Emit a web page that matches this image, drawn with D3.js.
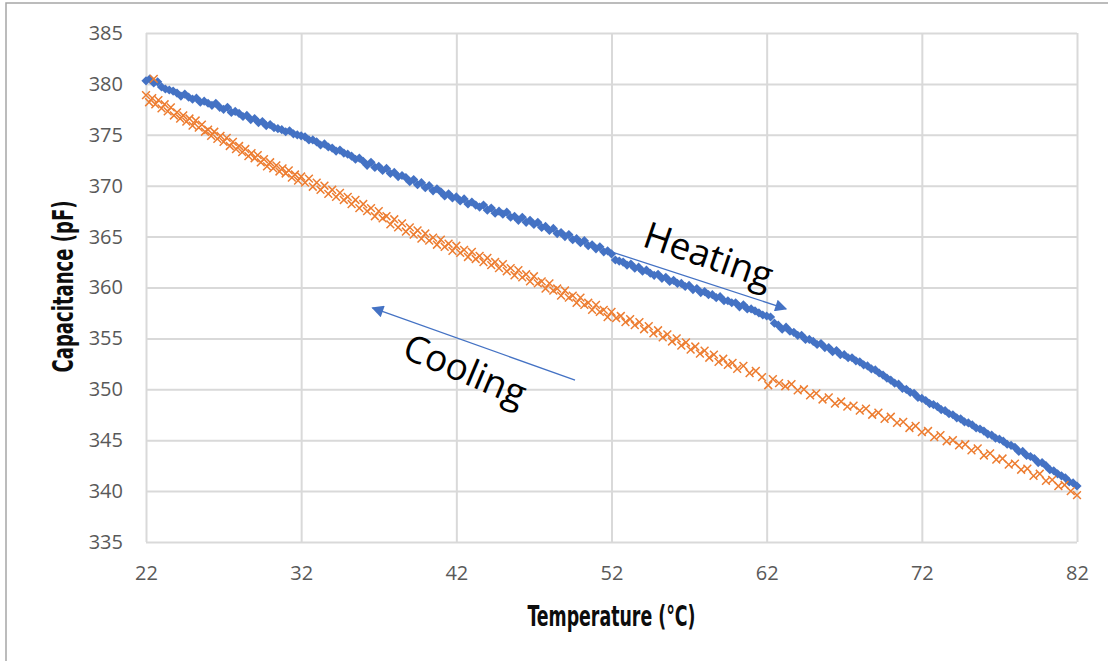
<!DOCTYPE html>
<html>
<head>
<meta charset="utf-8">
<script src="https://cdn.jsdelivr.net/npm/d3@7"></script>
<style>
	html, body { margin: 0; padding: 0; background: #fff; }
	svg { display: block; }
</style>
</head>
<body>
<div id="chart"></div>
<script>
// temperature (°C), capacitance (pF)
var heatingData = [
	[22,380.3],[22.25,380.5],[22.5,380.1],[22.75,380.2],
	[23,379.7],[23.25,379.5],[23.5,379.4],[23.75,379.3],
	[24,379.1],[24.25,378.8],[24.5,379.0],[24.75,378.7],
	[25,378.5],[25.25,378.6],[25.5,378.2],[25.75,378.3],
	[26,378.1],[26.25,377.9],[26.5,378.1],[26.75,377.7],
	[27,377.5],[27.25,377.7],[27.5,377.2],[27.75,377.3],
	[28,377.1],[28.25,376.8],[28.5,376.9],[28.75,376.5],
	[29,376.6],[29.25,376.2],[29.5,376.3],[29.75,375.9],
	[30,376.0],[30.25,375.7],[30.5,375.6],[30.75,375.5],
	[31,375.3],[31.25,375.4],[31.5,375.1],[31.75,375.0],
	[32,374.9],[32.25,374.8],[32.5,374.5],[32.75,374.5],
	[33,374.3],[33.25,374.0],[33.5,374.1],[33.75,373.8],
	[34,373.7],[34.25,373.4],[34.5,373.5],[34.75,373.2],
	[35,373.1],[35.25,372.9],[35.5,372.6],[35.75,372.7],
	[36,372.4],[36.25,372.0],[36.5,372.3],[36.75,371.8],
	[37,371.9],[37.25,371.5],[37.5,371.7],[37.75,371.2],
	[38,371.3],[38.25,370.9],[38.5,371.0],[38.75,370.8],
	[39,370.4],[39.25,370.6],[39.5,370.1],[39.75,370.3],
	[40,369.8],[40.25,370.0],[40.5,369.5],[40.75,369.7],
	[41,369.4],[41.25,369.0],[41.5,369.2],[41.75,368.8],
	[42,368.9],[42.25,368.5],[42.5,368.7],[42.75,368.2],
	[43,368.4],[43.25,368.1],[43.5,367.9],[43.75,368.1],
	[44,367.6],[44.25,367.8],[44.5,367.3],[44.75,367.5],
	[45,367.2],[45.25,367.4],[45.5,366.9],[45.75,367.0],
	[46,366.6],[46.25,366.9],[46.5,366.4],[46.75,366.6],
	[47,366.2],[47.25,366.4],[47.5,365.9],[47.75,366.0],
	[48,365.6],[48.25,365.8],[48.5,365.3],[48.75,365.4],
	[49,365.0],[49.25,365.2],[49.5,364.7],[49.75,364.8],
	[50,364.4],[50.25,364.6],[50.5,364.1],[50.75,364.2],
	[51,363.8],[51.25,364.0],[51.5,363.5],[51.75,363.6],
	[52,363.3],[52.25,362.7],[52.5,362.6],[52.75,362.5],
	[53,362.2],[53.25,362.3],[53.5,361.9],[53.75,362.0],
	[54,361.6],[54.25,361.7],[54.5,361.4],[54.75,361.2],
	[55,361.3],[55.25,360.9],[55.5,361.0],[55.75,360.6],
	[56,360.7],[56.25,360.4],[56.5,360.4],[56.75,360.1],
	[57,360.2],[57.25,359.8],[57.5,359.9],[57.75,359.5],
	[58,359.6],[58.25,359.3],[58.5,359.3],[58.75,359.0],
	[59,359.1],[59.25,358.7],[59.5,358.7],[59.75,358.5],
	[60,358.5],[60.25,358.1],[60.5,358.3],[60.75,357.9],
	[61,357.9],[61.25,357.7],[61.5,357.5],[61.75,357.3],
	[62,357.2],[62.25,357.1],[62.5,356.5],[62.75,356.3],
	[63,355.9],[63.25,356.1],[63.5,355.7],[63.75,355.6],
	[64,355.3],[64.25,355.3],[64.5,354.9],[64.75,354.9],
	[65,354.7],[65.25,354.4],[65.5,354.5],[65.75,354.1],
	[66,354.1],[66.25,353.7],[66.5,353.8],[66.75,353.4],
	[67,353.4],[67.25,353.1],[67.5,353.1],[67.75,352.8],
	[68,352.7],[68.25,352.4],[68.5,352.3],[68.75,352.0],
	[69,351.9],[69.25,351.6],[69.5,351.4],[69.75,351.1],
	[70,350.9],[70.25,350.6],[70.5,350.5],[70.75,350.1],
	[71,350.0],[71.25,349.7],[71.5,349.6],[71.75,349.2],
	[72,349.1],[72.25,348.9],[72.5,348.6],[72.75,348.5],
	[73,348.3],[73.25,348.0],[73.5,347.9],[73.75,347.6],
	[74,347.5],[74.25,347.2],[74.5,347.1],[74.75,346.8],
	[75,346.7],[75.25,346.5],[75.5,346.2],[75.75,346.1],
	[76,345.9],[76.25,345.6],[76.5,345.5],[76.75,345.2],
	[77,345.1],[77.25,344.9],[77.5,344.6],[77.75,344.5],
	[78,344.3],[78.25,343.9],[78.5,343.9],[78.75,343.5],
	[79,343.4],[79.25,343.2],[79.5,342.8],[79.75,342.8],
	[80,342.5],[80.25,342.1],[80.5,342.0],[80.75,341.7],
	[81,341.5],[81.25,341.3],[81.5,340.9],[81.75,340.8],
	[82,340.5]
];

var coolingData = [
	[22.0,378.9],[22.2,378.2],[22.4,378.6],[22.5,380.5],[22.6,378.0],[22.8,378.4],
	[23.0,377.6],[23.2,378.0],[23.4,377.3],[23.6,377.7],[23.8,376.9],
	[24.0,377.2],[24.2,376.6],[24.4,376.9],[24.6,376.3],[24.8,376.6],
	[25.0,375.9],[25.2,376.4],[25.4,375.7],[25.6,376.0],[25.8,375.3],
	[26.0,375.5],[26.2,374.9],[26.4,375.3],[26.6,374.6],[26.8,374.9],
	[27.0,374.3],[27.2,374.7],[27.4,373.9],[27.6,374.3],[27.8,373.6],
	[28.0,373.9],[28.2,373.3],[28.4,373.6],[28.6,372.9],[28.8,373.2],
	[29.0,372.7],[29.2,373.0],[29.4,372.3],[29.6,372.6],[29.8,371.9],
	[30.0,372.3],[30.2,371.7],[30.4,372.0],[30.6,371.4],[30.8,371.7],
	[31.0,371.2],[31.2,371.5],[31.4,370.8],[31.6,371.1],[31.8,370.5],
	[32.0,370.9],[32.25,370.3],[32.5,370.7],[32.75,369.9],
	[33.0,370.3],[33.25,369.6],[33.5,370.0],[33.75,369.2],
	[34.0,369.6],[34.25,368.9],[34.5,369.3],[34.75,368.6],
	[35.0,368.9],[35.25,368.2],[35.5,368.6],[35.75,367.8],
	[36.0,368.2],[36.25,367.5],[36.5,367.8],[36.75,367.0],
	[37.0,367.5],[37.25,366.8],[37.5,367.0],[37.75,366.2],
	[38.0,366.7],[38.25,365.9],[38.5,366.3],[38.75,365.5],
	[39.0,365.9],[39.25,365.2],[39.5,365.6],[39.75,364.8],
	[40.0,365.3],[40.25,364.6],[40.5,364.9],[40.75,364.2],
	[41.0,364.7],[41.25,364.0],[41.5,364.3],[41.75,363.6],
	[42.0,364.1],[42.25,363.4],[42.5,363.7],[42.75,363.0],
	[43.0,363.5],[43.25,362.8],[43.5,363.1],[43.75,362.5],
	[44.0,362.9],[44.25,362.2],[44.5,362.5],[44.75,361.9],
	[45.0,362.3],[45.25,361.6],[45.5,361.9],[45.75,361.2],
	[46.0,361.7],[46.25,361.0],[46.5,361.3],[46.75,360.6],
	[47.0,361.1],[47.25,360.4],[47.5,360.6],[47.75,359.9],
	[48.0,360.4],[48.25,359.7],[48.5,359.9],[48.75,359.2],
	[49.0,359.7],[49.25,359.0],[49.5,359.2],[49.75,358.5],
	[50.0,359.0],[50.25,358.3],[50.5,358.5],[50.75,357.8],
	[51.0,358.3],[51.25,357.6],[51.5,357.8],[51.75,357.1],
	[52.0,357.6],[52.3,357.0],[52.6,357.2],[52.9,356.6],
	[53.2,356.9],[53.5,356.3],[53.8,356.6],
	[54.1,355.9],[54.4,356.2],[54.7,355.5],
	[55.0,355.8],[55.3,355.1],[55.6,355.4],[55.9,354.7],
	[56.2,355.0],[56.5,354.3],[56.8,354.6],
	[57.1,353.9],[57.4,354.2],[57.7,353.5],
	[58.0,353.8],[58.3,353.1],[58.6,353.4],[58.9,352.7],
	[59.2,353.0],[59.5,352.4],[59.8,352.6],
	[60.1,352.0],[60.5,352.3],[60.9,351.6],
	[61.3,351.8],[61.7,351.2],[62.1,350.4],[62.4,351.0],[62.8,350.6],
	[63.2,350.3],[63.6,350.5],[64.0,349.9],
	[64.4,350.0],[64.8,349.4],[65.2,349.6],
	[65.6,349.0],[66.0,349.2],[66.4,348.6],
	[66.8,348.8],[67.2,348.3],[67.6,348.4],
	[68.0,347.9],[68.4,348.1],[68.8,347.5],
	[69.2,347.7],[69.6,347.1],[70.0,347.3],
	[70.4,346.7],[70.8,346.8],[71.2,346.2],
	[71.6,346.4],[72.0,345.8],[72.4,345.9],
	[72.8,345.3],[73.2,345.5],[73.6,344.9],
	[74.0,345.0],[74.4,344.5],[74.8,344.6],
	[75.2,344.0],[75.6,344.2],[76.0,343.5],
	[76.4,343.7],[76.8,343.1],[77.2,343.2],
	[77.6,342.6],[78.0,342.7],[78.4,342.1],
	[78.8,342.2],[79.2,341.5],[79.6,341.7],
	[80.0,341.0],[80.4,341.1],[80.8,340.5],
	[81.2,340.6],[81.6,340.0],[82.0,339.6]
];

var xTicks = [22, 32, 42, 52, 62, 72, 82];
var yTicks = [335, 340, 345, 350, 355, 360, 365, 370, 375, 380, 385];

// annotation arrows, in data units: [from, to]
var heatingArrow = [[51.6, 363.7], [63.25, 357.9]];
var coolingArrow = [[49.65, 350.9], [36.6, 358.0]];

var width = 1108, height = 661;
var plot = {left: 146, right: 1077, top: 33, bottom: 542};

var svg = d3.select("#chart").append("svg")
	.attr("width", width)
	.attr("height", height);

// outer chart border (top and left visible)
svg.append("path")
	.attr("d", "M6,661V3H1108")
	.attr("fill", "none")
	.attr("stroke", "#a6a6a6")
	.attr("stroke-width", 1.5);

var x = d3.scaleLinear().domain([22, 82]).range([plot.left, plot.right]);
var y = d3.scaleLinear().domain([335, 385]).range([plot.bottom, plot.top]);

var yAxis = svg.append("g")
	.attr("transform", "translate(" + plot.left + ",0)")
	.call(d3.axisLeft(y).tickValues(yTicks).tickSize(-(plot.right - plot.left)).tickPadding(23));

var xAxis = svg.append("g")
	.attr("transform", "translate(0," + plot.bottom + ")")
	.call(d3.axisBottom(x).tickValues(xTicks).tickSize(-(plot.bottom - plot.top)).tickPadding(24));

[xAxis, yAxis].forEach(function(a) {
	a.select(".domain").remove();
	a.selectAll(".tick line")
		.attr("stroke", "#d9d9d9")
		.attr("stroke-width", 2);
	a.selectAll(".tick text")
		.attr("fill", "#595959")
		.style("font-family", "'Open Sans', 'Noto Sans', sans-serif")
		.style("font-size", "20px");
});

// axis titles
svg.append("text")
	.attr("x", (plot.left + plot.right) / 2)
	.attr("y", 626)
	.attr("text-anchor", "middle")
	.attr("textLength", 168)
	.attr("lengthAdjust", "spacingAndGlyphs")
	.style("font-family", "'Liberation Sans Narrow', 'DejaVu Sans Condensed', sans-serif")
	.style("font-weight", "bold")
	.style("font-size", "29px")
	.attr("fill", "#0d0d0d")
	.text("Temperature (°C)");

svg.append("text")
	.attr("transform", "translate(72.5," + ((plot.top + plot.bottom) / 2 - 1) + ") rotate(-90)")
	.attr("text-anchor", "middle")
	.attr("textLength", 172)
	.attr("lengthAdjust", "spacingAndGlyphs")
	.style("font-family", "'Liberation Sans Narrow', 'DejaVu Sans Condensed', sans-serif")
	.style("font-weight", "bold")
	.style("font-size", "29px")
	.attr("fill", "#0d0d0d")
	.text("Capacitance (pF)");

// series
var r = 4.6;
svg.append("g").selectAll("path")
	.data(heatingData)
	.enter().append("path")
		.attr("transform", function(d) { return "translate(" + x(d[0]) + "," + y(d[1]) + ")"; })
		.attr("d", "M0," + (-r) + "L" + r + ",0L0," + r + "L" + (-r) + ",0Z")
		.attr("fill", "#4472C4");

var s = 3.9;
svg.append("g").selectAll("path")
	.data(coolingData)
	.enter().append("path")
		.attr("transform", function(d) { return "translate(" + x(d[0]) + "," + y(d[1]) + ")"; })
		.attr("d", "M" + (-s) + "," + (-s) + "L" + s + "," + s + "M" + (-s) + "," + s + "L" + s + "," + (-s))
		.attr("fill", "none")
		.attr("stroke", "#ED7D31")
		.attr("stroke-width", 1.5);

// arrows
svg.append("defs").append("marker")
	.attr("id", "head")
	.attr("viewBox", "0 0 10 10")
	.attr("refX", 9)
	.attr("refY", 5)
	.attr("markerWidth", 16)
	.attr("markerHeight", 12)
	.attr("markerUnits", "userSpaceOnUse")
	.attr("orient", "auto")
	.append("path")
		.attr("d", "M0,0L10,5L0,10Z")
		.attr("fill", "#4472C4");

[heatingArrow, coolingArrow].forEach(function(a) {
	svg.append("line")
		.attr("x1", x(a[0][0])).attr("y1", y(a[0][1]))
		.attr("x2", x(a[1][0])).attr("y2", y(a[1][1]))
		.attr("stroke", "#4472C4")
		.attr("stroke-width", 1.3)
		.attr("marker-end", "url(#head)");
});

// labels
function label(t, c, angle, txt) {
	svg.append("text")
		.attr("transform", "translate(" + x(t) + "," + y(c) + ") rotate(" + angle + ")")
		.style("font-family", "'Open Sans', 'Noto Sans', sans-serif")
		.style("font-size", "37px")
		.attr("fill", "#000")
		.text(txt);
}
label(53.9, 364.1, 19, "Heating");
label(38.4, 353.2, 23, "Cooling");
</script>
</body>
</html>
